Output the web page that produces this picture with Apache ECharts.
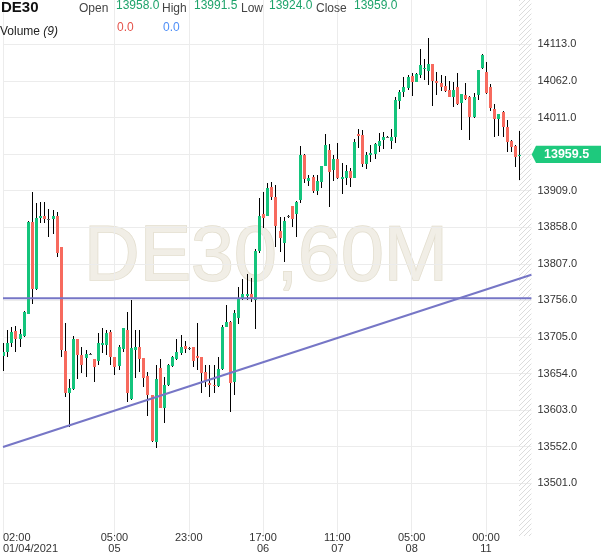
<!DOCTYPE html>
<html><head><meta charset="utf-8">
<script src="https://cdn.jsdelivr.net/npm/echarts@6/dist/echarts.min.js"></script>
<style>html,body{margin:0;padding:0;background:#fff}#c{width:601px;height:558px}</style>
</head><body><div id="c"></div>
<script>
// ---- data (DE30, 60M candles) ----
const symbolName = 'DE30';
const timeframe = '60M';
const opens = [13679,13684.5,13696,13713.5,13702,13707,13737,13865.5,13771.5,13871.5,
13874,13869,13869,13874,13830,13685.5,13626.5,13632,13701.5,13680,
13675,13681,13674,13672,13694,13694,13712.5,13676.5,13664.5,13688,
13714.5,13618,13687.5,13691.5,13675,13650.5,13624,13559,13662,13606.5,
13638,13664.5,13674.5,13682,13692.5,13689,13691.5,13678.5,13676.5,13656.5,
13640.5,13637.5,13637,13660,13719.5,13726.5,13642.5,13731,13757.5,13762.5,
13765,13756.5,13825,13876,13873.5,13914.5,13899.5,13853,13835.5,13873,
13887.5,13876.5,13896,13958.5,13923,13928.5,13909,13921.5,13943.5,13965.5,
13938,13953,13925.5,13927,13936.5,13927,13988,13986.5,13946,13958.5,
13960,13971,13979.5,13983.5,13978.5,13984,14034.5,14047,14051.5,14069.5,
14061,14070,14078,14076.5,14085.5,14062.5,14059.5,14055,14049.5,14040,
14054,14030.5,14042,14040,14011,14042.5,14079.5,14075,14054,14023,
14008.5,14019,13998,13978,13971,13958];
const highs = [13696,13714.5,13719.5,13720.5,13715.5,13741,13866.5,13906.5,13891.5,13893.5,
13893.5,13883,13882,13879.5,13831,13725,13646,13706.5,13702,13691.5,
13687.5,13682,13674,13710,13717,13714.5,13714.5,13676.5,13694,13717,
13740.5,13756.5,13714.5,13714.5,13675,13656.5,13624,13666,13674,13649.5,
13668,13678.5,13702.5,13707.5,13700,13691,13691.5,13724,13676.5,13666,
13666,13666,13676.5,13721.5,13749.5,13727,13742.5,13775,13785.5,13793,
13787,13827,13899,13907.5,13919,13921.5,13917,13872.5,13872.5,13875,
13888,13894,13971.5,13960,13931,13931,13931,13944,13987.5,13973.5,
13958.5,13975,13947,13944.5,13940,13980.5,13994.5,13993.5,13963.5,13972.5,
13975,13990,13991,13984.5,13994.5,14040,14050,14068,14070,14072.5,
14072.5,14106,14092,14121.5,14086,14075,14070,14069,14062.5,14061,
14072.5,14044,14058.5,14040.5,14045.5,14077.5,14099.5,14088,14058,14030,
14016,14019.5,14007.5,13979,13972,13991.5];
const lows = [13657,13677.5,13690.5,13684.5,13691.5,13705.5,13736.5,13751,13770.5,13864.5,
13863.5,13844,13848,13817,13677,13621.5,13579,13631,13646,13654.5,
13649.5,13680,13642.5,13666,13682,13680,13666,13652,13659,13684.5,
13615,13617,13647.5,13656.5,13635,13595,13559,13549.5,13605.5,13585.5,
13636.5,13663.5,13673,13680,13682,13687,13662.5,13659,13626.5,13635.5,
13621,13627,13635,13659,13718.5,13601,13624,13723,13756.5,13756.5,
13754,13715.5,13822.5,13856.5,13873,13896,13831,13824,13810,13871,
13859,13844,13891.5,13919,13915.5,13906,13903,13912,13943,13886.5,
13923,13925,13904,13917,13914.5,13926,13969,13941.5,13938.5,13949.5,
13953,13963.5,13966.5,13982,13966.5,13976,14022.5,14040,14050,14041.5,
14060,14065.5,14063.5,14056.5,14027.5,14042.5,14048.5,14047,14039,14026,
14028,13993.5,14036,13979.5,14010,14035.5,14079,14044,14020,13984,
13985,13984,13963,13963,13941.5,13924];
const closes = [13684.5,13696,13712.5,13702,13709.5,13740,13865.5,13772.5,13870.5,13874,
13869,13869,13874,13822.5,13687,13627.5,13633.5,13701.5,13680,13666,
13681,13681,13663.5,13696,13696,13710,13676.5,13663.5,13691.5,13717,
13627.5,13689,13691.5,13674,13648,13624,13560.5,13646.5,13606.5,13638,
13666,13676.5,13684.5,13691.5,13688.5,13689,13672,13676,13655,13644,
13637.5,13636.5,13660,13718.5,13726.5,13640.5,13739,13757.5,13765,13765,
13758,13825,13873.5,13871.5,13912,13899.5,13859.5,13843.5,13867,13873,
13870,13893.5,13958.5,13925.5,13927,13909,13922.5,13943.5,13972.5,13935.5,
13953,13926,13928.5,13937,13927,13977,13985,13946,13958.5,13962,
13974,13978.5,13984,13983.5,13984,14035.5,14047,14054,14067,14060,
14071,14084,14079.5,14085.5,14062.5,14059.5,14054,14048,14040,14050,
14029.5,14043.5,14037,14011,14040,14077,14097.5,14044.5,14024,14008.5,
14015.5,13998,13977.5,13969.5,13956.5,13959];
// hourly sessions: [day, first hour, last hour]
const daySegments = [['2021-01-04',2,23],['2021-01-05',0,23],['2021-01-06',0,23],['2021-01-07',0,23],['2021-01-08',0,22],['2021-01-11',0,8]];
const xTickIndex = [0,27,45,63,81,99,117];
const xTickText = ['02:00\n01/04/2021','05:00\n05','23:00','17:00\n06','11:00\n07','05:00\n08','00:00\n11'];
const yTickValues = [13501,13552,13603,13654,13705,13756,13807,13858,13909,13960,14011,14062,14113];
const lastPrice = 13959.5;
const levelLine = [[0, 13759], [128, 13759]];
const trendLine = [[0, 13551.5], [128, 13791.8]];
const volumeLabel = 'Volume';
const volumePeriod = '(9)';
const volumeValues = [0.0, 0.0];

// ---- build ----
const cats = [];
daySegments.forEach(([d,a,b]) => { for (let h=a; h<=b; h++) cats.push(d+' '+String(h).padStart(2,'0')+':00'); });
const candleData = opens.map((o,i) => [i, o, closes[i], lows[i], highs[i]]);
const tickMap = {}; xTickIndex.forEach((ix,k) => tickMap[ix] = xTickText[k]);
const isTick = (idx) => tickMap[idx] !== undefined;

const UP = '#14c47c', DOWN = '#f76a5e', FLAT = '#666';
const LINE = '#7676c6';
const FONT = '"Liberation Sans", Arial, sans-serif';

function renderItem(params, api) {
  const i = api.value(0), o = api.value(1), c = api.value(2), l = api.value(3), h = api.value(4);
  const pO = api.coord([i, o]), pC = api.coord([i, c]), pL = api.coord([i, l]), pH = api.coord([i, h]);
  const xc = Math.round(pO[0]);
  const top = Math.round(Math.min(pO[1], pC[1])), bot = Math.round(Math.max(pO[1], pC[1]));
  const col = c > o ? UP : (c < o ? DOWN : FLAT);
  return {type:'group', children:[
    {type:'line', shape:{x1:xc+0.5, y1:Math.round(pH[1]), x2:xc+0.5, y2:Math.round(pL[1])}, style:{stroke:'#000', lineWidth:1}},
    {type:'rect', shape:{x:xc-1, y:top, width:3, height:Math.max(1, bot-top)}, style:{fill:col}}
  ]};
}

const pc = document.createElement('canvas'); pc.width = 5; pc.height = 5;
const g = pc.getContext('2d'); g.strokeStyle = '#dcdcdc'; g.lineWidth = 1;
g.beginPath(); g.moveTo(0,5); g.lineTo(5,0); g.moveTo(-1,1); g.lineTo(1,-1); g.moveTo(4,6); g.lineTo(6,4); g.stroke();

const chart = echarts.init(document.getElementById('c'), null, {renderer:'canvas'});
chart.setOption({
  animation:false,
  grid:{left:0.8, right:69.6, top:0, bottom:22},
  xAxis:{type:'category', data:cats, boundaryGap:false, max:cats.length + 2,
    axisLine:{show:false}, axisTick:{show:false, interval:isTick},
    splitLine:{show:true, interval:isTick, lineStyle:{color:'#ececec', width:1}},
    axisLabel:{interval:isTick, formatter:(v,idx)=>tickMap[idx]||'', fontSize:11, color:'#333', lineHeight:11, margin:-4, fontFamily:FONT, alignMinLabel:'left'}},
  yAxis:{type:'value', position:'right', min:13427.5, max:14174.8, scale:true,
    splitLine:{show:true, lineStyle:{color:'#ececec', width:1}},
    axisLine:{show:false}, axisTick:{show:false, customValues:yTickValues},
    axisLabel:{customValues:yTickValues, formatter:v=>v.toFixed(1), margin:6, fontSize:11, color:'#333', fontFamily:FONT}},
  series:[
    {type:'custom', renderItem, data:candleData, encode:{x:0, y:[1,2,3,4]}, clip:true, z:2,
      markArea:{silent:true, itemStyle:{color:{image:pc, repeat:'repeat'}}, data:[[{xAxis:125},{xAxis:128}]]}},
    {type:'line', data:levelLine, symbol:'none', silent:true, z:5, lineStyle:{color:LINE, width:2}},
    {type:'line', data:trendLine, symbol:'none', silent:true, z:5, lineStyle:{color:LINE, width:2}}
  ]
});

const tagY = chart.convertToPixel({yAxisIndex:0}, lastPrice);
const last = opens.length - 1;
const HG = '#1ea36b';
const hdr = (t, x, y, fill, extra) => Object.assign({type:'text', z:50, style:{text:t, x:x, y:y, fill:fill, font:'12px '+FONT, textAlign:'left', textVerticalAlign:'middle'}}, extra||{});
chart.setOption({graphic:[
  {type:'text', z:-1, style:{text:symbolName+','+timeframe, x:266, y:259, textAlign:'center', textVerticalAlign:'middle', font:'77px '+FONT, fill:'#f1eee6', stroke:'#e2ddcd', lineWidth:1.5}},
  hdr(symbolName, 1, 7.5, '#111', {style:{text:symbolName, x:1, y:7.5, fill:'#111', font:'bold 15px '+FONT, textAlign:'left', textVerticalAlign:'middle'}}),
  hdr('Open', 79, 8.8, '#444'),
  hdr(opens[last].toFixed(1), 116, 5.4, HG),
  hdr('High', 162, 8.8, '#444'),
  hdr(highs[last].toFixed(1), 194, 5.4, HG),
  hdr('Low', 241, 8.8, '#444'),
  hdr(lows[last].toFixed(1), 269, 5.4, HG),
  hdr('Close', 316, 8.8, '#444'),
  hdr(closes[last].toFixed(1), 354, 5.4, HG),
  {type:'text', z:50, style:{text:'{a|'+volumeLabel+' }{b|'+volumePeriod+'}', x:0, y:31.5, textAlign:'left', textVerticalAlign:'middle', font:'12px '+FONT, rich:{a:{fill:'#222', fontSize:12, fontFamily:FONT}, b:{fill:'#222', fontSize:12, fontStyle:'italic', fontFamily:FONT}}}},
  hdr(volumeValues[0].toFixed(1), 117, 27.5, '#e5534b'),
  hdr(volumeValues[1].toFixed(1), 163, 27.5, '#4f8ff7'),
  {type:'polygon', z:60, shape:{points:[[531.7,tagY],[536,tagY-8.7],[601,tagY-8.7],[601,tagY+8.7],[536,tagY+8.7]]}, style:{fill:'#1ec97d'}},
  {type:'text', z:61, style:{text:lastPrice.toFixed(1), x:544, y:tagY+0.5, fill:'#fff', font:'bold 12.5px '+FONT, textAlign:'left', textVerticalAlign:'middle'}}
]});
</script></body></html>
